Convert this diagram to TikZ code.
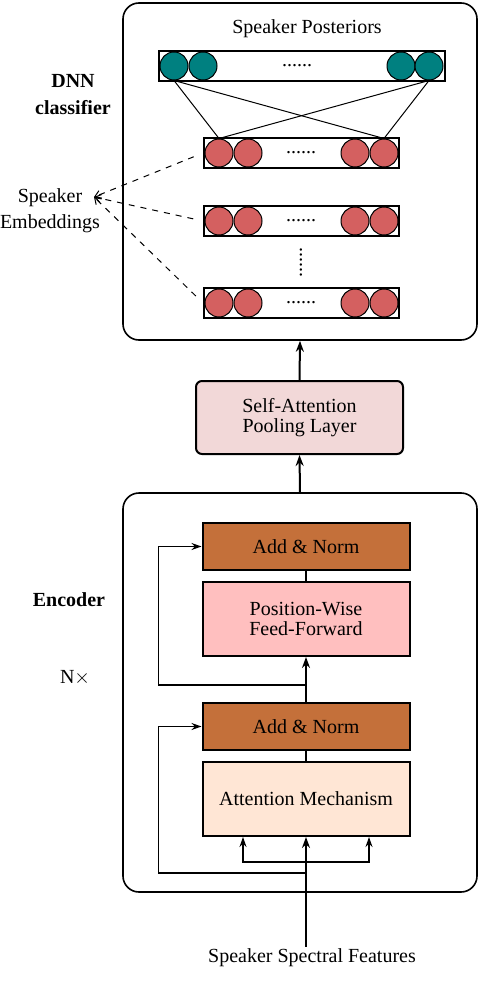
\documentclass[tikz,border=0pt]{standalone}
\usepackage{fontspec}
\setmainfont{Liberation Serif}
\usetikzlibrary{arrows.meta}

\definecolor{postcol}{RGB}{0,128,128}
\definecolor{embcol}{RGB}{212,96,96}
\definecolor{normcol}{RGB}{196,112,58}
\definecolor{ffcol}{RGB}{255,191,191}
\definecolor{attcol}{RGB}{255,230,213}
\definecolor{poolcol}{RGB}{242,216,216}

\tikzset{
  neuron/.style={circle, draw, line width=0.5pt, inner sep=0pt, minimum size=14pt},
  layerbox/.style={draw, line width=1pt, inner sep=0pt, minimum height=15pt},
  block/.style={draw, line width=1pt, minimum width=103.5pt, align=center, font=\fontsize{10}{10}\selectfont},
  outerbox/.style={draw, line width=0.8pt, rounded corners=8pt, minimum width=177pt},
  sidelabel/.style={align=center, font=\fontsize{10}{13}\selectfont},
  mainline/.style={line width=1pt, -{Stealth[length=5.5pt,width=4pt]}},
  plainline/.style={line width=1pt},
  skipline/.style={line width=0.6pt, -{Stealth[length=5pt,width=3.5pt]}},
  embarrow/.style={dashed, line width=0.5pt, -{Straight Barb[length=3pt,width=4pt]}, shorten <=5pt},
}

\begin{document}
\begin{tikzpicture}[x=0.5pt, y=-0.5pt]
\useasboundingbox (0,0) rectangle (486,994);

% DNN classifier
\node [outerbox, minimum height=168.5pt] (dnn) at (300,171.5) {};
\node (post) at (307,29) {Speaker Posteriors};
\node [layerbox, minimum width=143pt] (prow) at (302,66) {};
\node [neuron, fill=postcol] (p1) at (174,66) {};
\node [neuron, fill=postcol] (p2) at (203,66) {};
\node [neuron, fill=postcol] (p3) at (401,66) {};
\node [neuron, fill=postcol] (p4) at (429,66) {};
\node at (297,66) {......};

\foreach \r/\y in {1/153, 2/221, 3/303} {
  \node [layerbox, minimum width=97.5pt] (row\r) at (301.5,\y) {};
  \node [neuron, fill=embcol] (e\r1) at (219,\y) {};
  \node [neuron, fill=embcol] (e\r2) at (248,\y) {};
  \node [neuron, fill=embcol] (e\r3) at (355,\y) {};
  \node [neuron, fill=embcol] (e\r4) at (384,\y) {};
  \node at (301,\y) {......};
}
\node [rotate=90] (vdots) at (301,263) {......};

\draw[line width=0.5pt] (p1.south) -- (e11.north);
\draw[line width=0.5pt] (p1.south) -- (e14.north);
\draw[line width=0.5pt] (p4.south) -- (e11.north);
\draw[line width=0.5pt] (p4.south) -- (e14.north);

\node [sidelabel, font=\fontsize{10}{13.5}\selectfont\bfseries] (dnnlab) at (73,95) {DNN\\classifier};
\node [sidelabel] (emb) at (50,211) {Speaker\\Embeddings};
\coordinate (embtip) at (94,197);
\draw[embarrow] (row1.west) -- (embtip);
\draw[embarrow] (row2.west) -- (embtip);
\draw[embarrow] (row3.west) -- (embtip);

% pooling
\node [block, fill=poolcol, rounded corners=3pt, minimum height=36.5pt] (pool) at (299.5,417.5) {Self-Attention\\Pooling Layer};

% encoder
\node [outerbox, minimum height=199.5pt] (enc) at (300,692.5) {};
\node [block, fill=normcol, minimum height=23.5pt] (norm2) at (306,546.5) {Add \& Norm};
\node [block, fill=ffcol, minimum height=37pt] (ff) at (306,619) {Position-Wise\\Feed-Forward};
\node [block, fill=normcol, minimum height=23.5pt] (norm1) at (306,726.5) {Add \& Norm};
\node [block, fill=attcol, minimum height=37pt] (att) at (306,799) {Attention Mechanism};
\node [font=\bfseries] (enclab) at (69,600) {Encoder};
\node (nlab) at (75,678) {N$\times$};
\node [inner sep=1pt] (ssf) at (312,958) {Speaker Spectral Features};

\coordinate (fork) at (306,862);
\coordinate (res1) at (306,873);
\coordinate (res2) at (306,685);

\draw[mainline] (ssf.north -| att.south) -- (att.south);
\draw[skipline] (fork) -| ([xshift=-31.5pt]att.south);
\draw[skipline] (fork) -| ([xshift=31.5pt]att.south);
\draw[skipline] (res1) -| ([xshift=-21.5pt]norm1.west) -- (norm1.west);
\draw[plainline] (att.north) -- (norm1.south);
\draw[mainline] (norm1.north) -- (ff.south);
\draw[skipline] (res2) -| ([xshift=-21.5pt]norm2.west) -- (norm2.west);
\draw[plainline] (ff.north) -- (norm2.south);
\draw[mainline] (enc.north) -- (pool.south);
\draw[mainline] (pool.north) -- (dnn.south);
\end{tikzpicture}
\end{document}
